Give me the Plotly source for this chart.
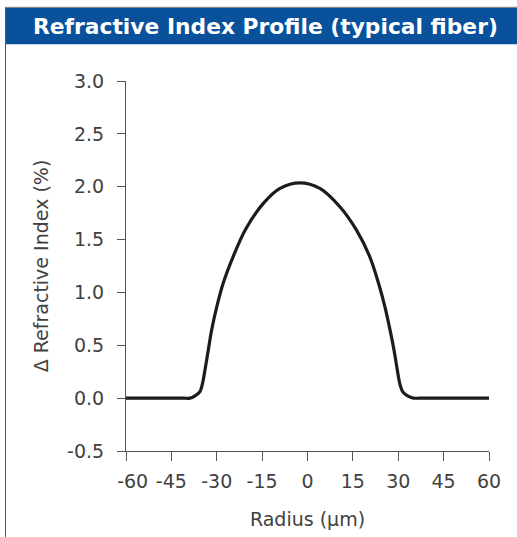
import plotly.graph_objects as go

# Data
radius_um = [-60, -50, -41, -38.9, -37.2, -35.6, -34.7, -33.9, -32.8, -31.7, -30.0, -27.9,
             -24.6, -20.5, -14.6, -9.1, -2.5, 4.1, 10.7, 16.2, 20.6, 23.5, 25.6, 27.3,
             28.6, 29.7, 30.5, 31.5, 33.1, 35.0, 37.0, 50, 60]
delta_index = [0, 0, 0, 0.0, 0.022, 0.060, 0.139, 0.265, 0.454, 0.643, 0.864, 1.085,
               1.337, 1.595, 1.842, 1.984, 2.037, 1.984, 1.810, 1.589, 1.337, 1.085, 0.864, 0.643,
               0.454, 0.265, 0.139, 0.060, 0.022, 0.0, 0, 0, 0]
x_ticks = [-60, -45, -30, -15, 0, 15, 30, 45, 60]
x_tick_labels = ["\u2002\u2009-60", "-45", "-30", "-15", "0", "15", "30", "45", "60"]
y_ticks = [-0.5, 0.0, 0.5, 1.0, 1.5, 2.0, 2.5, 3.0]
title_text = "Refractive Index Profile (typical fiber)"

W, H = 517, 537
L, R, T, B = 126, 489, 80.7, 450.7

def px(x):
    return (x - L) / (R - L)

def py(y):
    return (B - y) / (B - T)

fig = go.Figure()
fig.add_trace(go.Scatter(
    x=radius_um, y=delta_index, mode="lines",
    line=dict(color="#1e1b1c", width=3.2, shape="spline", smoothing=0.9),
    hoverinfo="skip", showlegend=False,
))

font_family = "DejaVu Sans, sans-serif"
text_color = "#414141"
fig.update_layout(
    width=W, height=H,
    margin=dict(l=L, r=W - R, t=T, b=H - B, pad=0),
    paper_bgcolor="white", plot_bgcolor="white",
    font=dict(family=font_family, size=19, color=text_color),
    xaxis=dict(
        range=[-60, 60], tickvals=x_ticks, ticktext=x_tick_labels,
        showgrid=False, zeroline=False, showline=True, linecolor="#555555", linewidth=1,
        ticks="outside", ticklen=9, tickcolor="#555555", tickwidth=1,
        ticklabelstandoff=4,
        title=dict(text="Radius (µm)", font=dict(size=19, color=text_color), standoff=21),
    ),
    yaxis=dict(
        range=[-0.5, 3.0], tickvals=y_ticks, ticktext=[f"{v:.1f}" for v in y_ticks],
        showgrid=False, zeroline=False, showline=True, linecolor="#555555", linewidth=1,
        ticks="outside", ticklen=8, tickcolor="#555555", tickwidth=1,
        ticklabelstandoff=9,
        title=dict(text="Δ Refractive Index (%)", font=dict(size=19, color=text_color), standoff=13),
    ),
    shapes=[
        dict(type="rect", xref="paper", yref="paper",
             x0=px(5), x1=px(517), y0=py(44), y1=py(7.5),
             fillcolor="#0a519c", line=dict(width=0), layer="below"),
        dict(type="line", xref="paper", yref="paper",
             x0=px(5.5), x1=px(5.5), y0=py(7), y1=py(537),
             line=dict(color="#555555", width=1)),
        dict(type="line", xref="paper", yref="paper",
             x0=px(5), x1=px(517), y0=py(7), y1=py(7),
             line=dict(color="#777777", width=1)),
    ],
    annotations=[
        dict(text="<b>" + title_text + "</b>", xref="paper", yref="paper",
             x=px(265), y=py(26.5), xanchor="center", yanchor="middle", showarrow=False,
             font=dict(family=font_family, size=21.8, color="white")),
    ],
)

fig.write_html("out.html", config={"displayModeBar": False},
               post_script="document.body.style.margin='0';")
